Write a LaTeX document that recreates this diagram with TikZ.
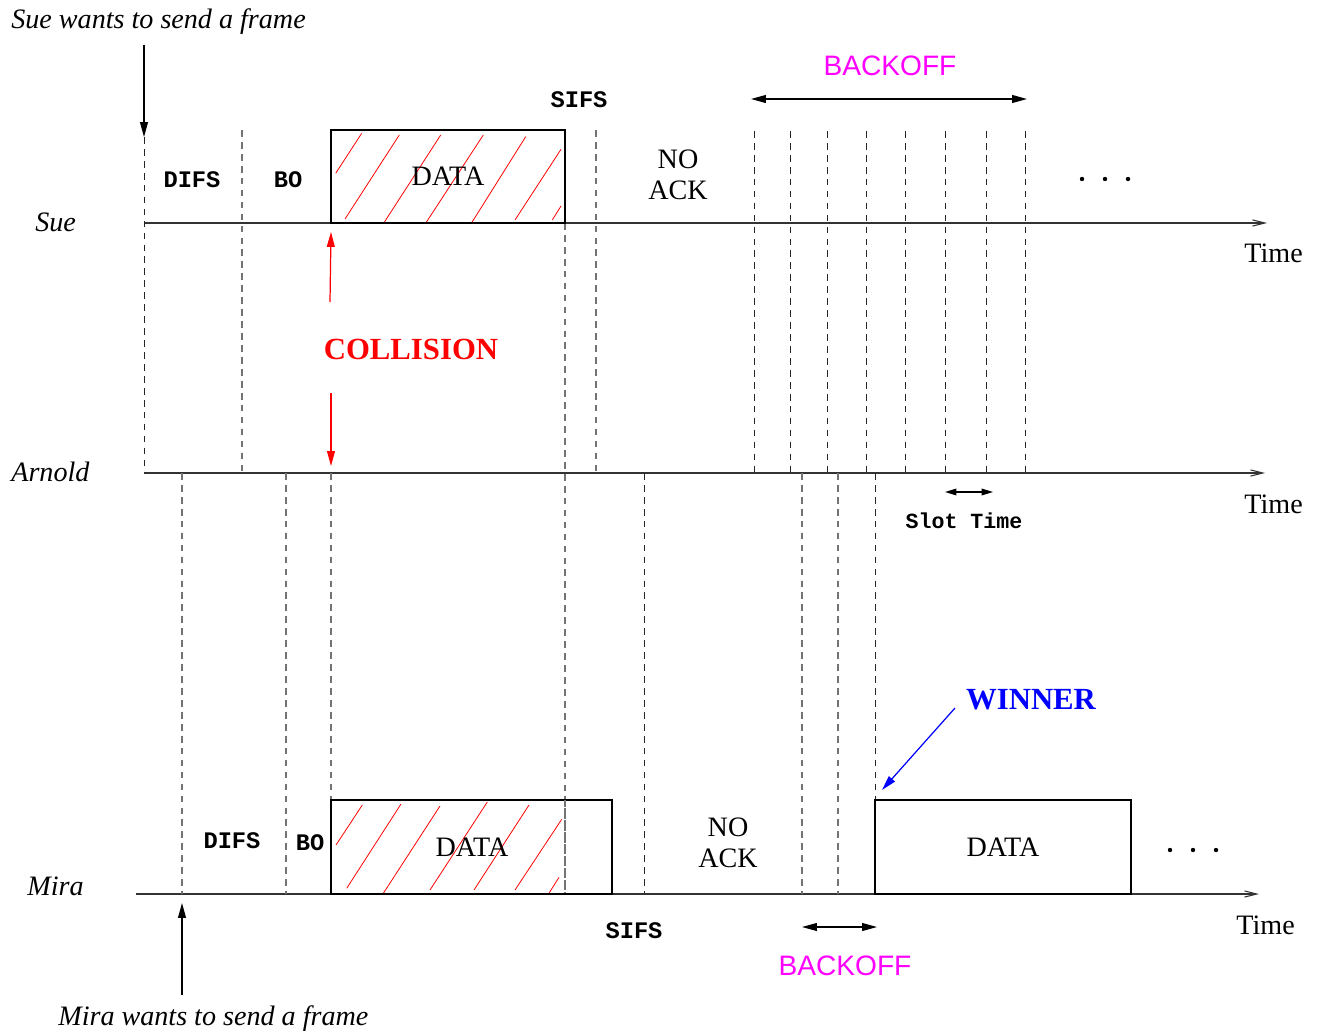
\documentclass[tikz,border=0pt]{standalone}
\usepackage{fontspec}
\setmainfont{Liberation Serif}
\setsansfont{Liberation Sans}
\setmonofont{Liberation Mono}
\usetikzlibrary{arrows.meta}
\definecolor{mag}{RGB}{255,0,255}
\begin{document}
\begin{tikzpicture}[x=0.02cm,y=-0.02cm,
 axis/.style={draw=black!80, line width=0.6pt, -{Straight Barb[length=7pt,width=3.5pt]}},
 dk/.style={draw=black!85, line width=0.45pt, dash pattern=on 3.8pt off 3pt},
 gr/.style={draw=black!55, line width=0.7pt, dash pattern=on 3.8pt off 3pt},
 frame/.style={draw=black, line width=0.7pt},
 hatch/.style={draw=red, line width=0.45pt},
 lab/.style={font=\fontsize{16}{18}\selectfont, inner sep=0pt},
 who/.style={font=\fontsize{16}{18}\selectfont\itshape, inner sep=0pt},
 mono/.style={font=\fontsize{13.5}{16}\selectfont\ttfamily\bfseries, inner sep=0pt},
 sans/.style={font=\fontsize{16}{18}\sffamily\selectfont, text=mag, inner sep=0pt},
 arr/.style={line width=0.7pt, -{Triangle[length=8.5pt,width=4.5pt]}},
 darr/.style={line width=0.7pt, {Triangle[length=8.5pt,width=4.5pt]}-{Triangle[length=8.5pt,width=4.5pt]}},
 ]
\useasboundingbox (0,0) rectangle (1317,1033);

% ---------- coordinates ----------
\coordinate (sueL) at (144,223);  \coordinate (sueR) at (1267,223);
\coordinate (arnL) at (144,473);  \coordinate (arnR) at (1265,473);
\coordinate (miraL) at (136,894); \coordinate (miraR) at (1259,894);

% ---------- axes ----------
\draw[axis] (sueL) -- (sueR);
\draw[axis] (arnL) -- (arnR);
\draw[axis] (miraL) -- (miraR);

% ---------- labels ----------
\node[who, anchor=base west] (suewant) at (11,29) {Sue wants to send a frame};
\node[who, anchor=base west] (sue) at (35,232) {Sue};
\node[who, anchor=base west] (arnold) at (11,481) {Arnold};
\node[who, anchor=base west] (mira) at (27,895) {Mira};
\node[who, anchor=base west] (mirawant) at (58,1025) {Mira wants to send a frame};
\node[lab, anchor=base west] (t1) at (1244,263) {Time};
\node[lab, anchor=base west] (t2) at (1244,513) {Time};
\node[lab, anchor=base west] (t3) at (1236,934) {Time};

\coordinate (sw1) at (144,45); \coordinate (sw2) at (144,137);
\draw[arr] (sw1) -- (sw2);

% dashed lines Sue -> Arnold
\draw[dk] (144,137) -- (144,473);
\draw[gr] (242,130) -- (242,473);
\draw[gr] (565,223) -- (565,894);
\draw[gr] (596,130) -- (596,473);
\foreach \x in {754,790,827,866,905,945,986,1025}
  \draw[dk] (\x,131) -- (\x,473);

% Sue DATA box
\draw[hatch] (335.7,173.3)--(361.7,133.3)
  (345,219)--(399.3,135) (384,222.7)--(440.7,135) (426,222.7)--(483.3,135)
  (471.7,222.7)--(525.7,136.7) (515,220)--(561,149.3) (552.3,220)--(561,206);
\draw[frame] (331,223) rectangle (565,130);
\node[lab] (data1) at (448,176) {DATA};
\node[mono] (difs1) at (192,180) {DIFS};
\node[mono] (bo1) at (288,180) {BO};
\node[mono] (sifs1) at (579,100) {SIFS};
\node[lab, align=center] (noack1) at (678,175) {NO\\ACK};

\coordinate (bk1) at (751,99); \coordinate (bk2) at (1027,99);
\draw[darr] (bk1) -- (bk2);
\node[sans] (backoff1) at (890,66) {BACKOFF};
\foreach \x in {1082,1105,1128} \fill (\x,179) circle (2.2);

% collision
\node[font=\fontsize{17.5}{20}\selectfont\bfseries, text=red, inner sep=0pt] (coll) at (411,349) {COLLISION};
\coordinate (c1) at (330,302); \coordinate (c2) at (331,232);
\coordinate (c3) at (331,393); \coordinate (c4) at (331,466);
\draw[arr, red] (c1) -- (c2);
\draw[arr, red] (c3) -- (c4);

% ---------- Arnold -> Mira dashed lines ----------
\draw[gr] (182,473) -- (182,894);
\draw[gr] (286,473) -- (286,894);
\draw[gr] (331,473) -- (331,894);
\draw[dk] (644,473) -- (644,894);
\draw[gr] (802,473) -- (802,894);
\draw[gr] (838,473) -- (838,894);
\draw[dk, line width=0.45pt] (875,473) -- (875,800);

\coordinate (st1) at (945,492); \coordinate (st2) at (993,492);
\draw[line width=0.7pt, {Triangle[length=6.5pt,width=3.8pt]}-{Triangle[length=6.5pt,width=3.8pt]}] (st1) -- (st2);
\node[font=\fontsize{12.3}{14}\selectfont\ttfamily\bfseries, inner sep=0pt] (slot) at (964,521) {Slot Time};

% ---------- Mira row ----------
\draw[hatch] (336,845)--(362.3,805) (346.7,888.3)--(401,804) (382.7,894.3)--(440,806)
  (430,890)--(487.3,802) (474,890)--(529,805) (515,890)--(561.7,819.3) (549.3,892.7)--(559,877.3);
\draw[frame] (331,894) rectangle (612,800);
\draw[gr] (565,800) -- (565,894);
\node[lab] (data2) at (472,847) {DATA};
\node[mono] (difs2) at (232,841) {DIFS};
\node[mono] (bo2) at (310,843) {BO};
\node[mono] (sifs2) at (634,931) {SIFS};
\node[lab, align=center] (noack2) at (728,843) {NO\\ACK};

\draw[frame] (875,894) rectangle (1131,800);
\node[lab] (data3) at (1003,847) {DATA};
\foreach \x in {1170,1193,1216} \fill (\x,850) circle (2.2);

\coordinate (bb1) at (802,927); \coordinate (bb2) at (877,927);
\draw[darr] (bb1) -- (bb2);
\node[sans] (backoff2) at (845,966) {BACKOFF};

\node[font=\fontsize{17.5}{20}\selectfont\bfseries, text=blue, inner sep=0pt] (winner) at (1031,700) {WINNER};
\coordinate (w1) at (955,708); \coordinate (w2) at (882,790);
\draw[arr, blue] (w1) -- (w2);

\coordinate (mw1) at (182,995); \coordinate (mw2) at (182,903);
\draw[arr] (mw1) -- (mw2);
\end{tikzpicture}
\end{document}
